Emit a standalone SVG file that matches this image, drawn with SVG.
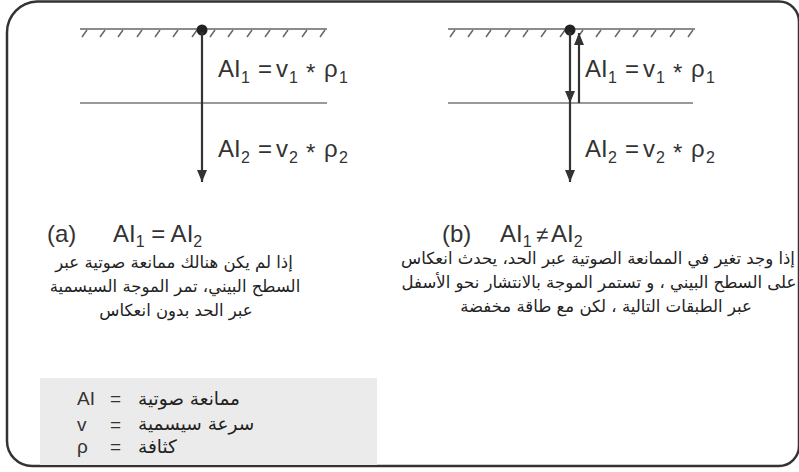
<svg xmlns="http://www.w3.org/2000/svg" width="799" height="472" viewBox="0 0 799 472">
<defs>
<style>
.lat{font-family:"Liberation Sans",Arial,sans-serif;fill:#333}
.ar{font-family:"DejaVu Sans","Liberation Sans",sans-serif;fill:#222}
.f{font-size:24px}
.s{font-size:16px}
.hatch{stroke:#666;stroke-width:1.5;fill:none}
.iface{stroke:#777;stroke-width:1.5}
.arw{stroke:#333;stroke-width:2.2;fill:none}
</style>
<marker id="ah" viewBox="0 0 12 10" refX="12" refY="5" markerWidth="12" markerHeight="10" markerUnits="userSpaceOnUse" orient="auto">
<path d="M0,0 L12,5 L0,10 z" fill="#333"/>
</marker>
<g id="hatchset">
<line x1="0" y1="29" x2="247" y2="29" class="hatch"/>
<path class="hatch" d="M2,37 l5,-7 M20,37 l5,-7 M38,37 l5,-7 M57,37 l5,-7 M75,37 l5,-7 M93,37 l5,-7 M112,37 l5,-7 M130,37 l5,-7 M148,37 l5,-7 M167,37 l5,-7 M185,37 l5,-7 M203,37 l5,-7 M222,37 l5,-7 M240,37 l5,-7"/>
</g>
</defs>
<rect width="799" height="472" fill="#fff"/>
<g id="frame">
<path d="M37,1.5 H779 A20,20 0 0 1 799,21.5 V446 A20,20 0 0 1 779,466 H32 A25,25 0 0 1 7,441 V32.5 A31,31 0 0 1 37,1.5 Z" fill="none" stroke="#333" stroke-width="2.5"/>
</g>
<g id="legend">
<rect x="40" y="378" width="337" height="87" fill="#ebebeb"/>
<text class="lat" x="77" y="405" font-size="19">AI</text>
<text class="lat" x="110" y="405" font-size="19">=</text>
<text class="lat" x="77" y="431" font-size="19">v</text>
<text class="lat" x="110" y="431" font-size="19">=</text>
<text class="lat" x="77" y="453" font-size="19">ρ</text>
<text class="lat" x="110" y="453" font-size="19">=</text>
<text class="ar" x="138" y="405" font-size="18.5">ممانعة صوتية</text>
<text class="ar" x="138" y="430" font-size="18.5">سرعة سيسمية</text>
<text class="ar" x="138" y="453" font-size="18.5">كثافة</text>
</g>
<g id="diagram-a">
<use href="#hatchset" x="80"/>
<line x1="80" y1="103" x2="327" y2="103" class="iface"/>
<circle cx="202" cy="30" r="5.5" fill="#222"/>
<text class="lat f" y="77"><tspan x="218">AI</tspan><tspan class="s" x="241" y="83">1</tspan><tspan x="258" y="77">=</tspan><tspan x="276">v</tspan><tspan class="s" x="289" y="83">1</tspan><tspan x="306" y="81">*</tspan><tspan x="324" y="77">ρ</tspan><tspan class="s" x="339" y="83">1</tspan></text>
<text class="lat f" y="157"><tspan x="218">AI</tspan><tspan class="s" x="241" y="163">2</tspan><tspan x="258" y="157">=</tspan><tspan x="276">v</tspan><tspan class="s" x="289" y="163">2</tspan><tspan x="306" y="161">*</tspan><tspan x="324" y="157">ρ</tspan><tspan class="s" x="339" y="163">2</tspan></text>
</g>
<g id="diagram-b">
<use href="#hatchset" x="448"/>
<line x1="448" y1="103" x2="693" y2="103" class="iface"/>
<circle cx="570" cy="30" r="5.5" fill="#222"/>
<text class="lat f" y="77"><tspan x="585">AI</tspan><tspan class="s" x="608" y="83">1</tspan><tspan x="625" y="77">=</tspan><tspan x="643">v</tspan><tspan class="s" x="656" y="83">1</tspan><tspan x="673" y="81">*</tspan><tspan x="691" y="77">ρ</tspan><tspan class="s" x="706" y="83">1</tspan></text>
<text class="lat f" y="157"><tspan x="585">AI</tspan><tspan class="s" x="608" y="163">2</tspan><tspan x="625" y="157">=</tspan><tspan x="643">v</tspan><tspan class="s" x="656" y="163">2</tspan><tspan x="673" y="161">*</tspan><tspan x="691" y="157">ρ</tspan><tspan class="s" x="706" y="163">2</tspan></text>
</g>
<g id="connectors">
<line x1="202" y1="32" x2="202" y2="182" class="arw" marker-end="url(#ah)"/>
<line x1="570" y1="32" x2="570" y2="103" class="arw" marker-end="url(#ah)"/>
<line x1="570" y1="103" x2="570" y2="182" class="arw" marker-end="url(#ah)"/>
<line x1="579" y1="103" x2="579" y2="33" class="arw" marker-end="url(#ah)"/>
</g>
<g id="caption-a">
<text class="lat f" x="47" y="242">(a)</text>
<text class="lat f" y="242"><tspan x="113">AI</tspan><tspan class="s" dy="5">1</tspan><tspan dy="-5"> = AI</tspan><tspan class="s" dy="5">2</tspan></text>
<text class="ar" x="174" y="268" font-size="16.5" text-anchor="middle" direction="rtl">إذا لم يكن هنالك ممانعة صوتية عبر</text>
<text class="ar" x="175" y="292" font-size="16.5" text-anchor="middle" direction="rtl">السطح البيني، تمر الموجة السيسمية</text>
<text class="ar" x="176" y="316" font-size="16.5" text-anchor="middle" direction="rtl">عبر الحد بدون انعكاس</text>
</g>
<g id="caption-b">
<text class="lat f" x="442" y="242">(b)</text>
<text class="lat f" y="242"><tspan x="500">AI</tspan><tspan class="s" dy="5">1</tspan><tspan x="536" dy="-5" font-size="22">≠</tspan><tspan x="551">AI</tspan><tspan class="s" dy="5">2</tspan></text>
<text class="ar" x="598" y="264" font-size="16.5" text-anchor="middle" direction="rtl">إذا وجد تغير في الممانعة الصوتية عبر الحد، يحدث انعكاس</text>
<text class="ar" x="599" y="288" font-size="16.5" text-anchor="middle" direction="rtl">على السطح البيني ، و تستمر الموجة بالانتشار نحو الأسفل</text>
<text class="ar" x="606" y="312" font-size="16.5" text-anchor="middle" direction="rtl">عبر الطبقات التالية ، لكن مع طاقة مخفضة</text>
</g>
</svg>
